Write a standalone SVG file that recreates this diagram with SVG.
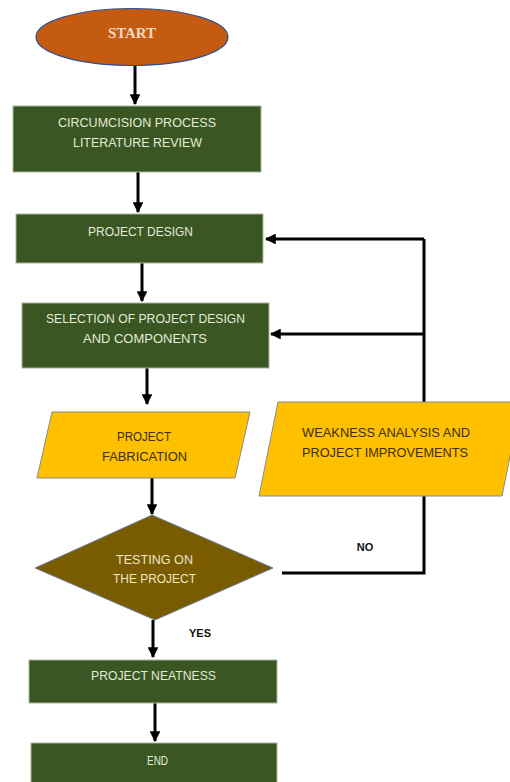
<svg xmlns="http://www.w3.org/2000/svg" width="510" height="782" viewBox="0 0 510 782">
  <style>
    .proc { fill: #3a5623; stroke: #a9b89a; stroke-width: 1; }
    .io { fill: #ffc000; stroke: #8a8a8a; stroke-width: 1; }
    .dec { fill: #7a5c00; stroke: #6d7fa0; stroke-width: 1; }
    .term { fill: #c55a11; stroke: #2f4f8f; stroke-width: 1.2; }
    .lt { font-family: "Liberation Sans", Arial, sans-serif; font-size: 12px; fill: #e3ead8; text-anchor: middle; }
    .dt { font-family: "Liberation Sans", Arial, sans-serif; font-size: 12px; fill: #3a2f00; text-anchor: middle; }
    .st { font-family: "Liberation Serif", "Times New Roman", serif; font-size: 14px; font-weight: bold; fill: #f6dcc6; text-anchor: middle; }
    .lbl { font-family: "Liberation Sans", Arial, sans-serif; font-size: 11px; font-weight: bold; fill: #111; text-anchor: middle; }
    .edge { fill: none; stroke: #000; stroke-width: 3; }
  </style>
  <defs>
    <marker id="ah" viewBox="0 0 10 10" refX="9" refY="5" markerWidth="3.6" markerHeight="3.6" orient="auto" markerUnits="strokeWidth">
      <path d="M0,0 L10,5 L0,10 Z" fill="#000"/>
    </marker>
  </defs>

  <rect width="510" height="782" fill="#fff"/>

  <!-- connectors -->
  <g id="connectors">
    <line class="edge" x1="135" y1="65" x2="135" y2="104" marker-end="url(#ah)"/>
    <line class="edge" x1="138" y1="172" x2="138" y2="212" marker-end="url(#ah)"/>
    <line class="edge" x1="142" y1="263" x2="142" y2="301" marker-end="url(#ah)"/>
    <line class="edge" x1="147" y1="368" x2="147" y2="404" marker-end="url(#ah)"/>
    <line class="edge" x1="152" y1="478" x2="152" y2="514" marker-end="url(#ah)"/>
    <line class="edge" x1="153" y1="620" x2="153" y2="657" marker-end="url(#ah)"/>
    <line class="edge" x1="155" y1="703" x2="155" y2="741" marker-end="url(#ah)"/>
    <!-- NO branch: back up to the design steps -->
    <path class="edge" d="M282,573 H424 V239"/>
    <line class="edge" x1="424" y1="239" x2="266" y2="239" marker-end="url(#ah)"/>
    <line class="edge" x1="424" y1="334" x2="271" y2="334" marker-end="url(#ah)"/>
    <text class="lbl" x="365" y="551">NO</text>
    <text class="lbl" x="200" y="637">YES</text>
  </g>

  <g id="start">
    <ellipse class="term" cx="132" cy="37" rx="96" ry="28.5"/>
    <text class="st" x="132" y="38" textLength="48" lengthAdjust="spacingAndGlyphs">START</text>
  </g>

  <g id="literature-review">
    <rect class="proc" x="13" y="106" width="248" height="66"/>
    <text class="lt" x="137" y="127" textLength="158" lengthAdjust="spacingAndGlyphs">CIRCUMCISION PROCESS</text>
    <text class="lt" x="137.5" y="147" textLength="129" lengthAdjust="spacingAndGlyphs">LITERATURE REVIEW</text>
  </g>

  <g id="project-design">
    <rect class="proc" x="16" y="214" width="247" height="49"/>
    <text class="lt" x="140.5" y="236" textLength="105" lengthAdjust="spacingAndGlyphs">PROJECT DESIGN</text>
  </g>

  <g id="selection">
    <rect class="proc" x="22" y="303" width="247" height="65"/>
    <text class="lt" x="145.5" y="323" textLength="199" lengthAdjust="spacingAndGlyphs">SELECTION OF PROJECT DESIGN</text>
    <text class="lt" x="145" y="343" textLength="124" lengthAdjust="spacingAndGlyphs">AND COMPONENTS</text>
  </g>

  <g id="fabrication">
    <polygon class="io" points="52,412 250,412 235,478 37,478"/>
    <text class="dt" x="144" y="441" textLength="54" lengthAdjust="spacingAndGlyphs">PROJECT</text>
    <text class="dt" x="144.5" y="461" textLength="85" lengthAdjust="spacingAndGlyphs">FABRICATION</text>
  </g>

  <g id="weakness-analysis">
    <polygon class="io" points="278,402 521,402 502,496 259,496"/>
    <text class="dt" x="386" y="437" textLength="168" lengthAdjust="spacingAndGlyphs">WEAKNESS ANALYSIS AND</text>
    <text class="dt" x="385" y="457" textLength="166" lengthAdjust="spacingAndGlyphs">PROJECT IMPROVEMENTS</text>
  </g>

  <g id="testing">
    <polygon class="dec" points="152,515 273,568 155,620 35,568"/>
    <text class="lt" x="154.5" y="564" textLength="77" lengthAdjust="spacingAndGlyphs" style="fill:#eee3c8">TESTING ON</text>
    <text class="lt" x="154.5" y="583" textLength="83" lengthAdjust="spacingAndGlyphs" style="fill:#eee3c8">THE PROJECT</text>
  </g>

  <g id="neatness">
    <rect class="proc" x="29" y="660" width="248" height="43"/>
    <text class="lt" x="153.5" y="680" textLength="125" lengthAdjust="spacingAndGlyphs">PROJECT NEATNESS</text>
  </g>

  <g id="end">
    <rect class="proc" x="31" y="743" width="246" height="45"/>
    <text class="lt" x="157.5" y="765" textLength="21" lengthAdjust="spacingAndGlyphs">END</text>
  </g>
</svg>
